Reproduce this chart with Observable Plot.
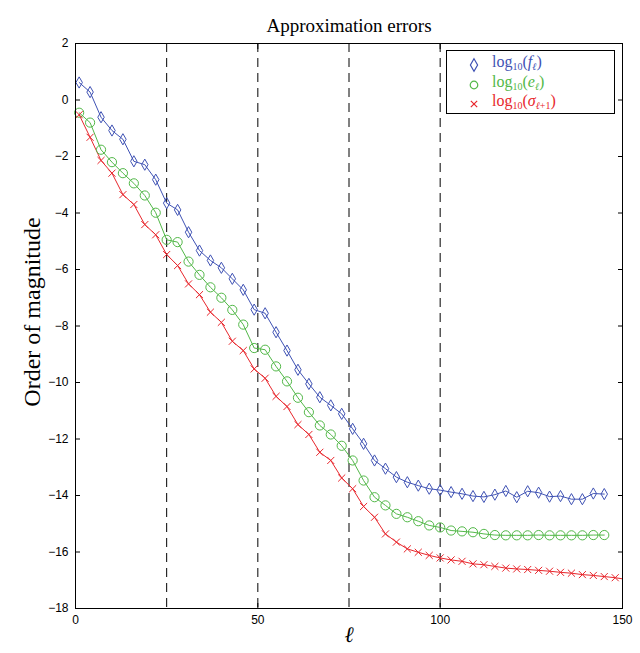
<!DOCTYPE html>
<html>
<head>
<meta charset="utf-8">
<script src="https://cdn.jsdelivr.net/npm/d3@7"></script>
<script src="https://cdn.jsdelivr.net/npm/@observablehq/plot@0.6"></script>
<style>
  html, body { margin: 0; padding: 0; background: #fff; }
  #wrap { position: relative; width: 640px; height: 653px; }
  #legend {
    position: absolute; left: 446px; top: 50px; width: 169px; height: 64px;
    border: 1px solid #000; background: #fff; box-sizing: border-box;
    font-family: "Liberation Serif", "DejaVu Serif", serif; font-size: 16px;
  }
  .row { position: absolute; left: 0; height: 18px; line-height: 18px; white-space: nowrap; }
  .row svg { position: absolute; left: 19px; top: 2px; }
  .row span { position: absolute; left: 45px; top: -2px; line-height: 18px; }
  sub { font-size: 10px; vertical-align: -3px; line-height: 0; }
  i { font-style: italic; }
</style>
</head>
<body>
<div id="wrap"></div>
<script>
const ell = [1,4,7,10,13,16,19,22,25,28,31,34,37,40,43,46,49,52,55,58,61,64,67,70,73,76,79,82,85,88,91,94,97,100,103,106,109,112,115,118,121,124,127,130,133,136,139,142,145];
const fVals = [0.62,0.28,-0.61,-1.08,-1.39,-2.17,-2.29,-2.82,-3.65,-3.89,-4.68,-5.33,-5.68,-5.94,-6.33,-6.72,-7.42,-7.55,-8.22,-8.87,-9.55,-10.05,-10.52,-10.81,-11.11,-11.64,-12.17,-12.76,-13.05,-13.35,-13.53,-13.65,-13.76,-13.81,-13.88,-13.94,-14.02,-14.05,-13.97,-13.84,-14.06,-13.85,-13.90,-14.04,-14.02,-14.13,-14.13,-13.93,-13.95];
const eVals = [-0.45,-0.80,-1.76,-2.20,-2.59,-2.95,-3.38,-3.99,-4.95,-5.03,-5.72,-6.19,-6.63,-7.00,-7.43,-7.95,-8.78,-8.84,-9.43,-9.96,-10.54,-11.05,-11.52,-11.84,-12.24,-12.76,-13.47,-14.06,-14.35,-14.65,-14.77,-14.91,-15.06,-15.13,-15.24,-15.27,-15.30,-15.36,-15.40,-15.41,-15.41,-15.41,-15.40,-15.41,-15.41,-15.41,-15.41,-15.40,-15.40];
const sigmaEll = [1,4,7,10,13,16,19,22,25,28,31,34,37,40,43,46,49,52,55,58,61,64,67,70,73,76,79,82,85,88,91,94,97,100,103,106,109,112,115,118,121,124,127,130,133,136,139,142,145,148,150];
const sigmaVals = [-0.52,-1.32,-2.14,-2.59,-3.35,-3.70,-4.41,-4.77,-5.47,-5.86,-6.51,-6.89,-7.51,-7.87,-8.54,-8.87,-9.52,-9.85,-10.49,-10.85,-11.49,-11.84,-12.47,-12.76,-13.38,-13.76,-14.39,-14.77,-15.36,-15.65,-15.89,-16.01,-16.12,-16.21,-16.28,-16.33,-16.42,-16.45,-16.51,-16.57,-16.60,-16.62,-16.65,-16.68,-16.72,-16.75,-16.80,-16.83,-16.87,-16.91,-16.95];
const dashX = [25, 50, 75, 100];
const xTicks = [0, 50, 100, 150];
const yTicks = [2,0,-2,-4,-6,-8,-10,-12,-14,-16,-18];

const blue = "#3f52b4", green = "#52b848", red = "#e8262c";
const fData = ell.map((x, i) => ({x, y: fVals[i]}));
const eData = ell.map((x, i) => ({x, y: eVals[i]}));
const sData = sigmaEll.map((x, i) => ({x, y: sigmaVals[i]}));
const sMarks = sData.filter(d => (d.x - 1) % 3 === 0);

const serif = "Liberation Serif, DejaVu Serif, serif";
const sans = "Liberation Sans, Arial, sans-serif";

const chart = Plot.plot({
  width: 640, height: 653,
  marginLeft: 75, marginRight: 18, marginTop: 43, marginBottom: 45,
  style: {fontFamily: sans, fontSize: "12px", color: "#000", background: "#fff"},
  x: {domain: [0, 150]},
  y: {domain: [-18, 2]},
  marks: [
    Plot.ruleX(dashX, {stroke: "#000", strokeWidth: 1, strokeDasharray: "9,6"}),
    Plot.line(fData, {x: "x", y: "y", stroke: blue, strokeWidth: 1}),
    Plot.line(eData, {x: "x", y: "y", stroke: green, strokeWidth: 1}),
    Plot.line(sData, {x: "x", y: "y", stroke: red, strokeWidth: 1}),
    Plot.dot(fData, {x: "x", y: "y", symbol: "diamond", r: 3.4, stroke: blue, strokeWidth: 1, fill: "none"}),
    Plot.dot(eData, {x: "x", y: "y", symbol: "circle", r: 4.6, stroke: green, strokeWidth: 1, fill: "none"}),
    Plot.dot(sMarks, {x: "x", y: "y", symbol: "times", r: 3.3, stroke: red, strokeWidth: 1}),
    Plot.frame({stroke: "#000", strokeWidth: 1}),
    Plot.axisX({ticks: xTicks, anchor: "bottom", tickSize: -5, tickPadding: 12, label: null, fontSize: 12}),
    Plot.axisX({ticks: xTicks, anchor: "top", tickSize: -5, tickFormat: () => "", label: null}),
    Plot.axisY({ticks: yTicks, anchor: "left", tickSize: -5, tickPadding: 12, label: null, fontSize: 12}),
    Plot.axisY({ticks: yTicks, anchor: "right", tickSize: -5, tickFormat: () => "", label: null}),
    Plot.text(["Approximation errors"], {frameAnchor: "top", dy: -25, fontFamily: serif, fontSize: 19, fill: "#000"}),
    Plot.text(["ℓ"], {frameAnchor: "bottom", dy: 33, fontFamily: serif, fontStyle: "italic", fontSize: 22, fill: "#000"}),
    Plot.text(["Order of magnitude"], {frameAnchor: "left", textAnchor: "middle", dx: -43, dy: -14, rotate: -90, fontFamily: serif, fontSize: 24, fill: "#000"})
  ]
});

const wrap = document.getElementById("wrap");
wrap.appendChild(chart);

const legendItems = [
  {color: blue, sym: "diamond", html: "log<sub>10</sub>(<i>f</i><sub><i>ℓ</i></sub>)"},
  {color: green, sym: "circle", html: "log<sub>10</sub>(<i>e</i><sub><i>ℓ</i></sub>)"},
  {color: red, sym: "times", html: "log<sub>10</sub>(<i>σ</i><sub><i>ℓ</i>+1</sub>)"}
];
const legend = document.createElement("div");
legend.id = "legend";
legendItems.forEach((it, i) => {
  const row = document.createElement("div");
  row.className = "row";
  row.style.top = (4 + i * 19.5) + "px";
  const s = d3.create("svg").attr("width", 16).attr("height", 16);
  const sym = it.sym === "diamond" ? d3.symbolDiamond : it.sym === "circle" ? d3.symbolCircle : d3.symbolX;
  const size = it.sym === "diamond" ? 45 : it.sym === "circle" ? 45 : 28;
  s.append("path").attr("transform", "translate(8,8)").attr("d", d3.symbol(sym, size)()).attr("fill", "none").attr("stroke", it.color).attr("stroke-width", 1.2);
  row.appendChild(s.node());
  const span = document.createElement("span");
  span.innerHTML = it.html;
  span.style.color = it.color;
  row.appendChild(span);
  legend.appendChild(row);
});
wrap.appendChild(legend);
</script>
</body>
</html>
